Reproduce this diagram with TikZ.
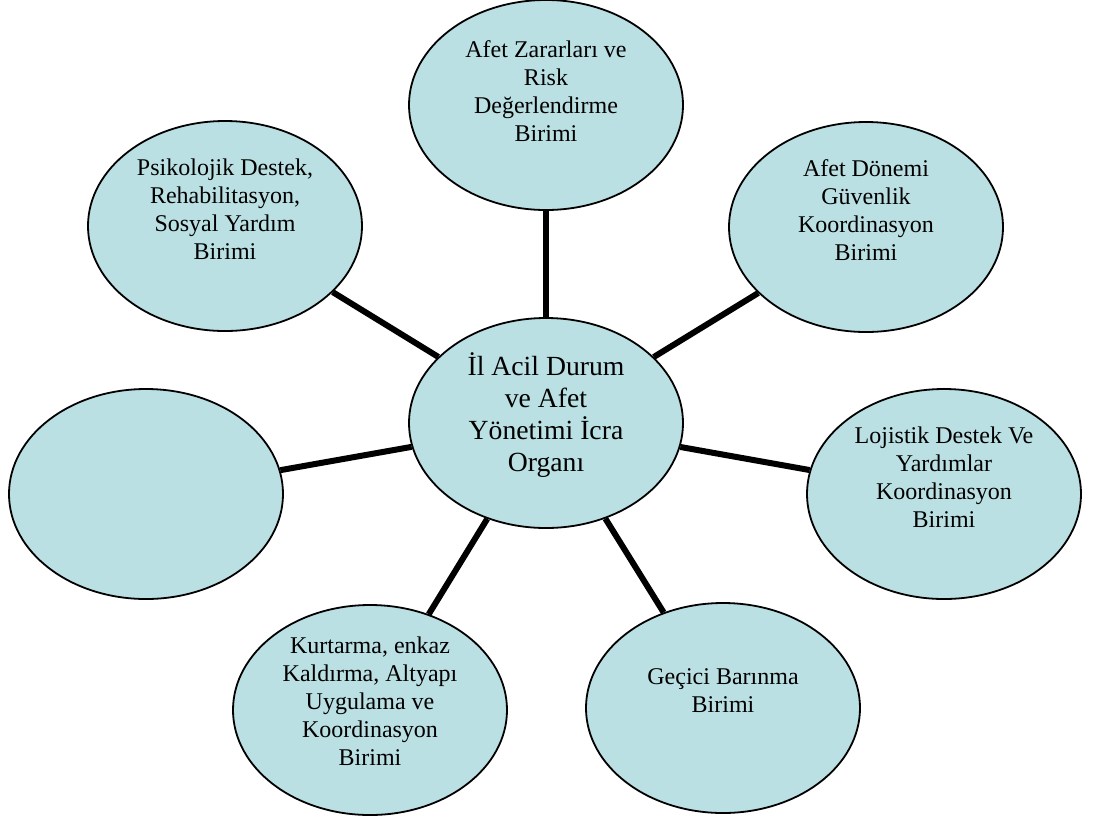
\documentclass[tikz,border=0pt]{standalone}
\usepackage{fontspec}
\setmainfont{Liberation Serif}
\usepackage{tikz}
\usetikzlibrary{shapes.geometric}
\usepackage{xcolor}
\definecolor{unitblue}{RGB}{186,224,227}

\begin{document}
\begin{tikzpicture}[x=0.5pt, y=-0.5pt, line join=round,
            unit/.style={ellipse, draw, line width=0.9pt, fill=unitblue,
                minimum width=137pt, minimum height=105pt, inner sep=0pt},
            unittext/.style={align=center, font=\fontsize{12}{14}\selectfont},
            spoke/.style={line width=3pt}]

        \useasboundingbox (0,0) rectangle (1093,816);

        % --- Units ---
        \node[unit] (C)  at (546,423) {};
        \node[unit] (T)  at (546,105) {};
        \node[unit] (TL) at (225,226) {};
        \node[unit] (TR) at (866,227) {};
        \node[unit] (R)  at (944,494) {};
        \node[unit] (L)  at (146,494) {};
        \node[unit] (BL) at (370,710) {};
        \node[unit] (BR) at (723,708) {};

        % --- Spokes ---
        \foreach \u in {T, TL, TR, R, L, BL, BR}
            \draw[spoke] (C) -- (\u);

        % --- Texts ---
        \node[unittext, font=\fontsize{13.85}{16}\selectfont] (C-text) at ([yshift=4pt]C)
            {İl Acil Durum\\ve Afet\\Yönetimi İcra\\Organı};
        \node[unittext] (T-text) at ([yshift=7pt]T)
            {Afet Zararları ve\\Risk\\Değerlendirme\\Birimi};
        \node[unittext] (TL-text) at ([yshift=8.5pt]TL)
            {Psikolojik Destek,\\Rehabilitasyon,\\Sosyal Yardım\\Birimi};
        \node[unittext] (TR-text) at ([yshift=8.5pt]TR)
            {Afet Dönemi\\Güvenlik\\Koordinasyon\\Birimi};
        \node[unittext] (R-text) at ([yshift=8.5pt]R)
            {Lojistik Destek Ve\\Yardımlar\\Koordinasyon\\Birimi};
        \node[unittext] (BL-text) at ([yshift=4.5pt]BL)
            {Kurtarma, enkaz\\Kaldırma, Altyapı\\Uygulama ve\\Koordinasyon\\Birimi};
        \node[unittext] (BR-text) at ([yshift=8.5pt]BR)
            {Geçici Barınma\\Birimi};

    \end{tikzpicture}
\end{document}
